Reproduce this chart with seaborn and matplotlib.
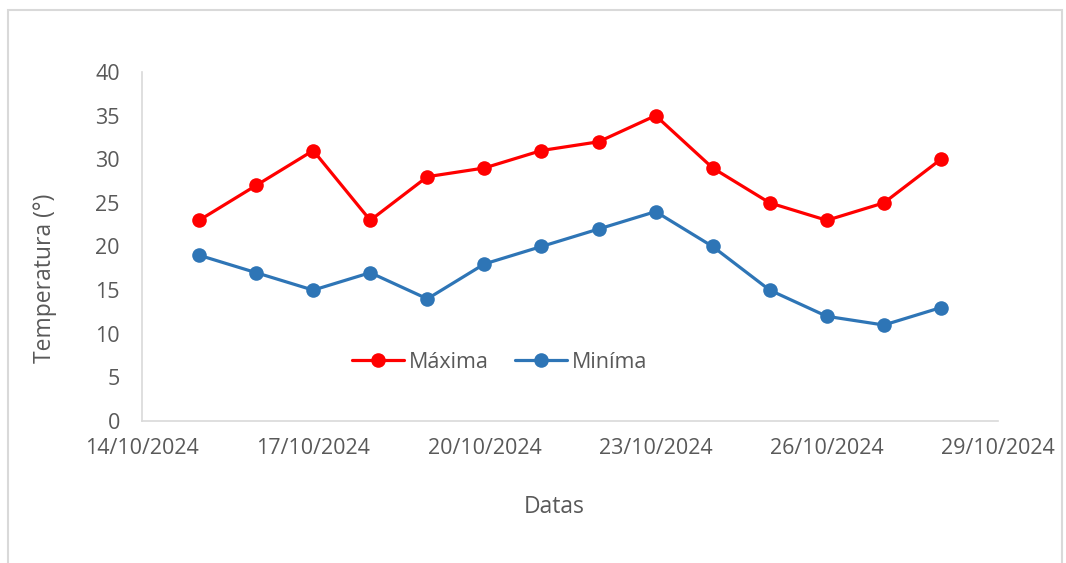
import seaborn as sns
import matplotlib.pyplot as plt
import matplotlib.dates as mdates
import pandas as pd
from matplotlib.patches import Rectangle

# dados
datas = pd.date_range('2024-10-15', '2024-10-28', freq='D')
temp_maxima = [23, 27, 31, 23, 28, 29, 31, 32, 35, 29, 25, 23, 25, 30]
temp_minima = [19, 17, 15, 17, 14, 18, 20, 22, 24, 20, 15, 12, 11, 13]
ticks_x = pd.date_range('2024-10-14', '2024-10-29', freq='3D')

df = pd.DataFrame({'Data': datas, 'Máxima': temp_maxima, 'Miníma': temp_minima})

sns.set_style('white')
plt.rcParams['font.family'] = ['Open Sans', 'DejaVu Sans']
cinza = '#595959'

fig = plt.figure(figsize=(10.66, 5.63), dpi=100)
fig.patches.append(Rectangle((8 / 1066, -0.01), 1054 / 1066, (563 - 10) / 563 + 0.01,
                             transform=fig.transFigure, fill=False,
                             edgecolor='#D9D9D9', linewidth=1.5))
eixo = fig.add_axes([142 / 1066, (563 - 421) / 563, 856 / 1066, 349 / 563])

sns.lineplot(data=df, x='Data', y='Máxima', color='#FF0000', marker='o',
             markersize=10.5, markeredgewidth=0, linewidth=2.3, label='Máxima', ax=eixo)
sns.lineplot(data=df, x='Data', y='Miníma', color='#2E75B6', marker='o',
             markersize=10.5, markeredgewidth=0, linewidth=2.3, label='Miníma', ax=eixo)

eixo.set_ylim(0, 40)
eixo.set_yticks(range(0, 41, 5))
eixo.set_xlim(ticks_x[0], ticks_x[-1])
eixo.set_xticks(ticks_x)
eixo.xaxis.set_major_formatter(mdates.DateFormatter('%d/%m/%Y'))
eixo.tick_params(labelsize=15.5, colors=cinza, length=0, pad=12)
eixo.tick_params(axis='y', pad=16)

for lado in ['top', 'right']:
    eixo.spines[lado].set_visible(False)
for lado in ['left', 'bottom']:
    eixo.spines[lado].set_color('#D9D9D9')
    eixo.spines[lado].set_linewidth(1.2)

eixo.set_xlabel('Datas', fontsize=16.5, color=cinza)
eixo.xaxis.set_label_coords(0.481, -0.211)
eixo.set_ylabel('Temperatura (°)', fontsize=16.5, color=cinza)
eixo.yaxis.set_label_coords(-0.0995, 0.41)

eixo.legend(loc='center', bbox_to_anchor=(0.418, 0.169), ncol=2, frameon=False,
            fontsize=15.5, labelcolor=cinza, handlelength=2.4, columnspacing=1.2,
            handletextpad=0.25)

fig.savefig('out.png', dpi=100)
